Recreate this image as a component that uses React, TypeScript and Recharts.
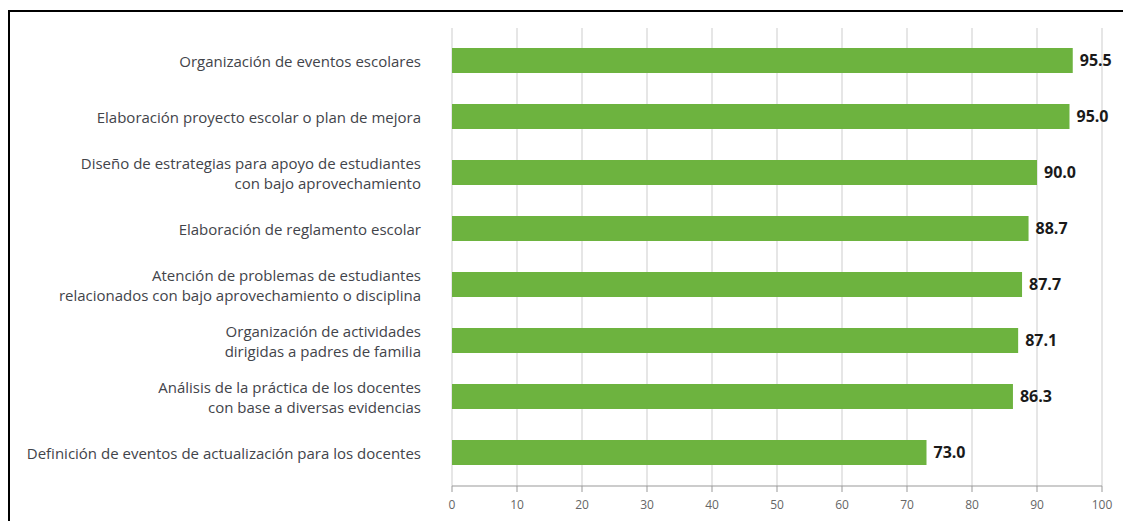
import React from "react";
import { BarChart, Bar, XAxis, YAxis, CartesianGrid, LabelList } from "recharts";

const categories: string[] = [
  "Organización de eventos escolares",
  "Elaboración proyecto escolar o plan de mejora",
  "Diseño de estrategias para apoyo de estudiantes\ncon bajo aprovechamiento",
  "Elaboración de reglamento escolar",
  "Atención de problemas de estudiantes\nrelacionados con bajo aprovechamiento o disciplina",
  "Organización de actividades\ndirigidas a padres de familia",
  "Análisis de la práctica de los docentes\ncon base a diversas evidencias",
  "Definición de eventos de actualización para los docentes",
];

const values: number[] = [95.5, 95.0, 90.0, 88.7, 87.7, 87.1, 86.3, 73.0];

const xTicks: number[] = [0, 10, 20, 30, 40, 50, 60, 70, 80, 90, 100];

const data = categories.map((name, i) => ({ name, value: values[i] }));

const FONT = "'Open Sans', 'DejaVu Sans', sans-serif";

const CatTick = (props: any) => {
  const { x, y, payload } = props;
  const lines: string[] = String(payload.value).split("\n");
  const lh = 20;
  const n = lines.length;
  return (
    <text x={x} y={y} textAnchor="end" fill="#42444a" fontSize={15} fontFamily={FONT}>
      {lines.map((l, i) => (
        <tspan key={i} x={x} y={y + 1.5 + (i - (n - 1) / 2) * lh} dy="0.35em">
          {l}
        </tspan>
      ))}
    </text>
  );
};

export default function App() {
  return (
    <div style={{ position: "absolute", left: 0, top: 0, width: 1123, height: 521, background: "#fff", overflow: "hidden" }}>
      <div
        style={{
          position: "absolute",
          left: 8,
          top: 10,
          width: 1115,
          height: 511,
          boxSizing: "border-box",
          borderTop: "2px solid #000",
          borderLeft: "2px solid #000",
        }}
      />
      <div style={{ position: "absolute", left: 0, top: 0 }}>
        <BarChart
          width={1123}
          height={521}
          data={data}
          layout="vertical"
          margin={{ top: 28, right: 21, left: 0, bottom: 5 }}
        >
          <CartesianGrid horizontal={false} vertical={true} stroke="#d6d6d6" strokeWidth={1.2} />
          <XAxis
            type="number"
            domain={[0, 100]}
            ticks={xTicks}
            interval={0}
            height={30}
            axisLine={{ stroke: "#999999" }}
            tickLine={{ stroke: "#999999" }}
            tickSize={6}
            tickMargin={8}
            tick={{ fill: "#666666", fontSize: 12, fontFamily: FONT }}
          />
          <YAxis
            type="category"
            dataKey="name"
            width={452}
            axisLine={false}
            tickLine={false}
            tickSize={0}
            tickMargin={31}
            interval={0}
            padding={{ top: 4, bottom: 6 }}
            tick={<CatTick />}
          />
          <Bar dataKey="value" fill="#6db33f" barSize={25} isAnimationActive={false}>
            <LabelList
              dataKey="value"
              position="right"
              offset={7}
              formatter={(v: any) => Number(v).toFixed(1)}
              style={{ fill: "#1a1a1a", fontSize: 16, fontWeight: 700, fontFamily: FONT }}
            />
          </Bar>
        </BarChart>
      </div>
    </div>
  );
}
